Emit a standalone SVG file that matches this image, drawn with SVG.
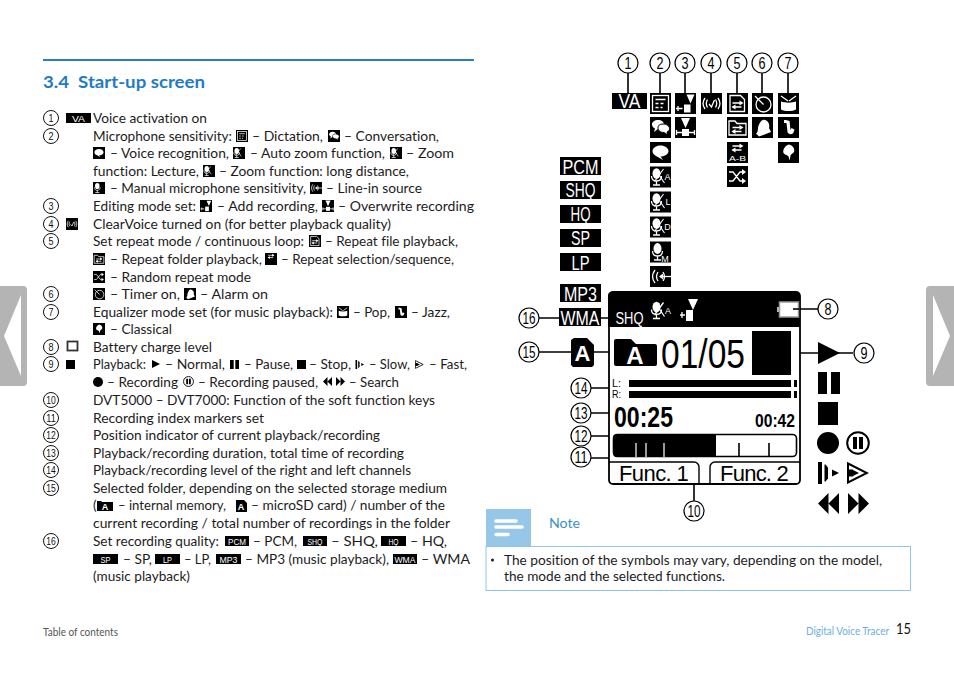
<svg xmlns="http://www.w3.org/2000/svg" xmlns:xlink="http://www.w3.org/1999/xlink" width="954" height="673" viewBox="0 0 954 673">
<style>
text{font-family:"Lato","Liberation Sans",sans-serif;font-variant-ligatures:none}
.t{font-size:13.5px;fill:#1c1c1c}
.h{font-size:17px;font-weight:700;fill:#1f7cc2}
.n{font-family:"Liberation Sans",sans-serif;font-size:11px;fill:#111;text-anchor:middle}
.N{font-family:"Liberation Sans",sans-serif;font-size:16px;fill:#000;text-anchor:middle}
.c{fill:#fff;stroke:#111;stroke-width:1}
.C{fill:#fff;stroke:#000;stroke-width:1.2}
.l{stroke:#000;stroke-width:1.6;fill:none}
.tag{font-family:"Liberation Sans",sans-serif;fill:#fff;text-anchor:middle}
.T{font-size:20px}
.s{font-size:9px}
.w{stroke:#fff;fill:none;stroke-width:1.3}
.wf{fill:#fff}
.lcd{font-family:"Liberation Sans",sans-serif;fill:#000}
</style>
<defs>
<symbol id="i-dict" viewBox="0 0 21 21"><rect width="21" height="21"/><rect x="2.5" y="2.5" width="16" height="16" class="w"/><path d="M5.5 6.5h10M5.500 10.500h3M10.500 10.500h3M5.500 14.500h3M10.500 14.500h2" class="w"/></symbol>
<symbol id="i-conv" viewBox="0 0 21 21"><rect width="21" height="21"/><path d="M8 3c3.500 0 6 2 6 4.500S11.500 12 8 12L4 15l1-3.500C3 10.500 2 9 2 7.500 2 5 4.500 3 8 3z" class="wf"/><path d="M13 7c3.500 0 6.500 2 6.500 4.500 0 1.500-1 3-2.500 3.500l1 3-4-2.500c-3.500 0-6-2-6-4.500S9.500 7 13 7z" class="wf" stroke="#000"/></symbol>
<symbol id="i-voice" viewBox="0 0 21 21"><rect width="21" height="21"/><path d="M10.500 3.500c4.500 0 8 2.500 8 5.500s-3.500 5.500-8 5.500L13 18l-6.500-3.800C4 13.300 2.500 11.300 2.500 9c0-3 3.500-5.500 8-5.500z" class="wf"/></symbol>
<symbol id="i-mic" viewBox="0 0 21 21"><rect width="21" height="21"/><ellipse cx="6.500" cy="7" rx="4" ry="5.200" class="wf"/><path d="M1.500 9.500c0 3.500 2.200 5 5 5s5-1.500 5-5M6.500 14.500v4M3 18.500h7" class="w"/><path d="M4.500 15L13.500 2.500M9 8.500l5.500 8" stroke="#fff" stroke-width="1.100" fill="none"/></symbol>
<symbol id="i-micm" viewBox="0 0 21 21"><rect width="21" height="21"/><ellipse cx="7.500" cy="7" rx="4" ry="5.400" class="wf"/><path d="M2.500 9.500c0 3.500 2.200 5 5 5s5-1.500 5-5M7.500 14.500v4M4 18.500h7" class="w"/></symbol>
<symbol id="i-line" viewBox="0 0 21 21"><rect width="21" height="21"/><path d="M5 4c-3 4-3 9 0 13M8 6c-2 3-2 6 0 9M13 6c2 3 2 6 0 9" class="w"/><path d="M10 10.500h11" class="w"/><path d="M9 10.500l4-3v6z" class="wf"/></symbol>
<symbol id="i-add" viewBox="0 0 21 21"><rect width="21" height="21"/><path d="M11.500 1.500h8l-4 9z" class="wf"/><rect x="9" y="11.500" width="6.500" height="8" class="wf"/><path d="M1 15.500h6.500M3 13v5" class="w"/></symbol>
<symbol id="i-over" viewBox="0 0 21 21"><rect width="21" height="21"/><path d="M6 1h9l-4.500 10z" class="wf"/><rect x="7" y="12" width="7" height="7" class="wf"/><path d="M1 15.500h19M1.500 13v5M19.500 13v5" class="w"/></symbol>
<symbol id="i-clear" viewBox="0 0 21 21"><rect width="21" height="21"/><path d="M4 5c-2.500 3.500-2.500 7.500 0 11M6.500 6.500c-1.500 2.500-1.500 5.500 0 8M17 5c2.500 3.500 2.500 7.500 0 11M14.500 6.500c1.500 2.500 1.500 5.500 0 8M8 11l2.500 3L13.500 7" class="w" stroke-width="1"/></symbol>
<symbol id="i-arrows" viewBox="0 0 21 21"><path d="M5.500 9h9M5.500 13h9" class="w"/><path d="M12.500 6.500l4 2.500-4 2.500zM8.500 10.500l-4 2.500 4 2.500z" class="wf"/></symbol>
<symbol id="i-file" viewBox="0 0 21 21"><rect width="21" height="21"/><path d="M3 2.500h10.500l4 4v12H3z" class="w"/><use href="#i-arrows" x="0" y="1" width="21" height="21"/></symbol>
<symbol id="i-folder" viewBox="0 0 21 21"><rect width="21" height="21"/><path d="M2 4h6l2 2.500h9v11.500H2z" class="w"/><use href="#i-arrows" x="0" y="1.500" width="21" height="21"/></symbol>
<symbol id="i-ab" viewBox="0 0 21 21"><rect width="21" height="21"/><use href="#i-arrows" x="0" y="-5" width="21" height="21"/></symbol>
<symbol id="i-rnd" viewBox="0 0 21 21"><rect width="21" height="21"/><path d="M2 6h4l7 9h3M2 15h4l7-9h3" class="w"/><path d="M15 3l4 3-4 3zM15 12l4 3-4 3z" class="wf"/></symbol>
<symbol id="i-timer" viewBox="0 0 21 21"><rect width="21" height="21"/><circle cx="11.500" cy="11.500" r="7.500" class="w" stroke-width="1.600"/><path d="M3 3l8.500 8.500" class="w" stroke-width="1.600"/></symbol>
<symbol id="i-alarm" viewBox="0 0 21 21"><rect width="21" height="21"/><path d="M13 3c3.500 1 5 4.500 4 8l2 4-12 4.500-3-3c3-2 1-5 3-9 1.500-3 3-5.500 6-4.500z" class="wf"/></symbol>
<symbol id="i-pop" viewBox="0 0 21 21"><rect width="21" height="21"/><path d="M3 3l7 5M18 3l-7 5" class="w"/><path d="M3 8.500c4 1.500 11 1.500 15 0v8c-4 2-11 2-15 0z" class="wf"/></symbol>
<symbol id="i-jazz" viewBox="0 0 21 21"><rect width="21" height="21"/><path d="M6 3v3h2.500l1 9c.5 2.500 5 3 6 .5l1-3-3-1.500-1 2L11.500 4 8 3z" class="wf"/></symbol>
<symbol id="i-cls" viewBox="0 0 21 21"><rect width="21" height="21"/><path d="M11 2.500c4.500 1 6 5 5 7.500-1 1.500-3 2-3.500 3.500l-.8 5-1.200-4c-1-1.500-3.500-1.500-5-3.500-1-3 1.500-7.500 5.500-8.500z" class="wf"/></symbol>
<symbol id="p-play" viewBox="0 0 22 22"><path d="M0 0l22 11L0 22z"/></symbol>
<symbol id="p-pause" viewBox="0 0 22 22"><rect width="9" height="22"/><rect x="13" width="9" height="22"/></symbol>
<symbol id="p-stop" viewBox="0 0 22 22"><rect width="22" height="22"/></symbol>
<symbol id="p-rec" viewBox="0 0 22 22"><circle cx="11" cy="11" r="11"/></symbol>
<symbol id="p-recp" viewBox="0 0 24 24"><circle cx="12" cy="12" r="10.800" fill="#fff" stroke="#000" stroke-width="2"/><rect x="7" y="6" width="4" height="12"/><rect x="13" y="6" width="4" height="12"/></symbol>
<symbol id="p-slow" viewBox="0 0 22 22"><rect width="4" height="22"/><path d="M6.500 2.500h1l2.500 3v11l-2.500 3h-1z"/><path d="M14 7.500l7 3.500-7 3.500z"/></symbol>
<symbol id="p-fast" viewBox="0 0 22 22"><path d="M1 1.500L20 11 1 20.500z" fill="#fff" stroke="#000" stroke-width="2"/><path d="M1 7.500h5v7H1zM6 8l6 3-6 3z"/></symbol>
<symbol id="p-rew" viewBox="0 0 22 22"><path d="M11 0L0 11l11 11zM22 0L11 11l11 11z"/></symbol>
<symbol id="p-ffw" viewBox="0 0 22 22"><path d="M0 0l11 11L0 22zM11 0l11 11-11 11z"/></symbol>
</defs>

<rect width="954" height="673" fill="#fff"/>

<g id="side-tabs">
<path d="M0 286h23a4 4 0 0 1 4 4v92a4 4 0 0 1-4 4H0z" fill="#b4b4b4"/>
<path d="M21 295L4 336l17 40z" fill="#fff"/>
<path d="M954 286h-24a4 4 0 0 0-4 4v92a4 4 0 0 0 4 4h24z" fill="#b4b4b4"/>
<path d="M933 295l17 41-17 40z" fill="#fff"/>
</g>

<g id="heading">
<rect x="43" y="59" width="431" height="2" fill="#2a7fc1"/>
<text class="h" x="43" y="88" xml:space="preserve" textLength="162" lengthAdjust="spacingAndGlyphs">3.4  Start-up screen</text>
</g>

<g id="list-numbers">
<g id="li1"><circle class="c" cx="51" cy="118" r="7.500"/><text class="n" x="51" y="122" textLength="5" lengthAdjust="spacingAndGlyphs">1</text></g>
<g id="li2"><circle class="c" cx="51" cy="136" r="7.500"/><text class="n" x="51" y="140" textLength="5" lengthAdjust="spacingAndGlyphs">2</text></g>
<g id="li3"><circle class="c" cx="51" cy="206" r="7.500"/><text class="n" x="51" y="210" textLength="5" lengthAdjust="spacingAndGlyphs">3</text></g>
<g id="li4"><circle class="c" cx="51" cy="224" r="7.500"/><text class="n" x="51" y="228" textLength="5" lengthAdjust="spacingAndGlyphs">4</text></g>
<g id="li5"><circle class="c" cx="51" cy="241" r="7.500"/><text class="n" x="51" y="245" textLength="5" lengthAdjust="spacingAndGlyphs">5</text></g>
<g id="li6"><circle class="c" cx="51" cy="294" r="7.500"/><text class="n" x="51" y="298" textLength="5" lengthAdjust="spacingAndGlyphs">6</text></g>
<g id="li7"><circle class="c" cx="51" cy="312" r="7.500"/><text class="n" x="51" y="316" textLength="5" lengthAdjust="spacingAndGlyphs">7</text></g>
<g id="li8"><circle class="c" cx="51" cy="347" r="7.500"/><text class="n" x="51" y="351" textLength="5" lengthAdjust="spacingAndGlyphs">8</text></g>
<g id="li9"><circle class="c" cx="51" cy="364" r="7.500"/><text class="n" x="51" y="368" textLength="5" lengthAdjust="spacingAndGlyphs">9</text></g>
<g id="li10"><circle class="c" cx="51" cy="400" r="7.500"/><text class="n" x="51" y="404" textLength="9.500" lengthAdjust="spacingAndGlyphs">10</text></g>
<g id="li11"><circle class="c" cx="51" cy="418" r="7.500"/><text class="n" x="51" y="422" textLength="9.500" lengthAdjust="spacingAndGlyphs">11</text></g>
<g id="li12"><circle class="c" cx="51" cy="435" r="7.500"/><text class="n" x="51" y="439" textLength="9.500" lengthAdjust="spacingAndGlyphs">12</text></g>
<g id="li13"><circle class="c" cx="51" cy="453" r="7.500"/><text class="n" x="51" y="457" textLength="9.500" lengthAdjust="spacingAndGlyphs">13</text></g>
<g id="li14"><circle class="c" cx="51" cy="470" r="7.500"/><text class="n" x="51" y="474" textLength="9.500" lengthAdjust="spacingAndGlyphs">14</text></g>
<g id="li15"><circle class="c" cx="51" cy="488" r="7.500"/><text class="n" x="51" y="492" textLength="9.500" lengthAdjust="spacingAndGlyphs">15</text></g>
<g id="li16"><circle class="c" cx="51" cy="541" r="7.500"/><text class="n" x="51" y="545" textLength="9.500" lengthAdjust="spacingAndGlyphs">16</text></g>
</g>

<g id="list-text">
<rect x="66" y="113" width="25" height="10"/><text class="tag s" x="78.500" y="121.500" textLength="13" lengthAdjust="spacingAndGlyphs">VA</text>
<text class="t" x="93" y="123" textLength="114" lengthAdjust="spacingAndGlyphs">Voice activation on</text>

<text class="t" x="93" y="141" textLength="139" lengthAdjust="spacingAndGlyphs">Microphone sensitivity:</text>
<use href="#i-dict" x="236" y="130" width="12" height="12"/>
<text class="t" x="252" y="141" textLength="71" lengthAdjust="spacingAndGlyphs">– Dictation,</text>
<use href="#i-conv" x="328" y="130" width="12" height="12"/>
<text class="t" x="344" y="141" textLength="95" lengthAdjust="spacingAndGlyphs">– Conversation,</text>

<use href="#i-voice" x="93" y="147" width="12" height="12"/>
<text class="t" x="110" y="158" textLength="119" lengthAdjust="spacingAndGlyphs">– Voice recognition,</text>
<use href="#i-mic" x="233" y="147" width="12" height="12"/>
<text class="t" x="250" y="158" textLength="135" lengthAdjust="spacingAndGlyphs">– Auto zoom function,</text>
<use href="#i-mic" x="390" y="147" width="12" height="12"/>
<text class="t" x="406" y="158" textLength="48" lengthAdjust="spacingAndGlyphs">– Zoom</text>

<text class="t" x="93" y="176" textLength="106" lengthAdjust="spacingAndGlyphs">function: Lecture,</text>
<use href="#i-mic" x="203" y="165" width="12" height="12"/>
<text class="t" x="219" y="176" textLength="190" lengthAdjust="spacingAndGlyphs">– Zoom function: long distance,</text>

<use href="#i-micm" x="93" y="182" width="12" height="12"/>
<text class="t" x="110" y="193" textLength="196" lengthAdjust="spacingAndGlyphs">– Manual microphone sensitivity,</text>
<use href="#i-line" x="310" y="182" width="12" height="12"/>
<text class="t" x="326" y="193" textLength="96" lengthAdjust="spacingAndGlyphs">– Line-in source</text>

<text class="t" x="93" y="211" textLength="103" lengthAdjust="spacingAndGlyphs">Editing mode set:</text>
<use href="#i-add" x="200" y="200" width="12" height="12"/>
<text class="t" x="217" y="211" textLength="101" lengthAdjust="spacingAndGlyphs">– Add recording,</text>
<use href="#i-over" x="322" y="200" width="12" height="12"/>
<text class="t" x="338" y="211" textLength="136" lengthAdjust="spacingAndGlyphs">– Overwrite recording</text>

<use href="#i-clear" x="66" y="218" width="12" height="12"/>
<text class="t" x="93" y="229" textLength="298" lengthAdjust="spacingAndGlyphs">ClearVoice turned on (for better playback quality)</text>

<text class="t" x="93" y="246" textLength="211" lengthAdjust="spacingAndGlyphs">Set repeat mode / continuous loop:</text>
<use href="#i-file" x="309" y="235" width="12" height="12"/>
<text class="t" x="325" y="246" textLength="133" lengthAdjust="spacingAndGlyphs">– Repeat file playback,</text>

<use href="#i-folder" x="93" y="253" width="12" height="12"/>
<text class="t" x="110" y="264" textLength="152" lengthAdjust="spacingAndGlyphs">– Repeat folder playback,</text>
<use href="#i-ab" x="265" y="253" width="12" height="12"/>
<text class="t" x="281" y="264" textLength="173" lengthAdjust="spacingAndGlyphs">– Repeat selection/sequence,</text>

<use href="#i-rnd" x="93" y="271" width="12" height="12"/>
<text class="t" x="110" y="282" textLength="141" lengthAdjust="spacingAndGlyphs">– Random repeat mode</text>

<use href="#i-timer" x="93" y="288" width="12" height="12"/>
<text class="t" x="110" y="299" textLength="70" lengthAdjust="spacingAndGlyphs">– Timer on,</text>
<use href="#i-alarm" x="184" y="288" width="12" height="12"/>
<text class="t" x="200" y="299" textLength="68" lengthAdjust="spacingAndGlyphs">– Alarm on</text>

<text class="t" x="93" y="317" textLength="240" lengthAdjust="spacingAndGlyphs">Equalizer mode set (for music playback):</text>
<use href="#i-pop" x="337" y="306" width="12" height="12"/>
<text class="t" x="353" y="317" textLength="37" lengthAdjust="spacingAndGlyphs">– Pop,</text>
<use href="#i-jazz" x="395" y="306" width="12" height="12"/>
<text class="t" x="411" y="317" textLength="39" lengthAdjust="spacingAndGlyphs">– Jazz,</text>

<use href="#i-cls" x="93" y="323" width="12" height="12"/>
<text class="t" x="110" y="334" textLength="62" lengthAdjust="spacingAndGlyphs">– Classical</text>

<rect x="67.500" y="341.500" width="10" height="9" fill="#fff" stroke="#333" stroke-width="1.800"/>
<text class="t" x="93" y="352" textLength="119" lengthAdjust="spacingAndGlyphs">Battery charge level</text>

<use href="#p-stop" x="66" y="360" width="9" height="9"/>
<text class="t" x="93" y="369" textLength="53" lengthAdjust="spacingAndGlyphs">Playback:</text>
<use href="#p-play" x="152" y="360" width="8" height="8"/>
<text class="t" x="165" y="369" textLength="60" lengthAdjust="spacingAndGlyphs">– Normal,</text>
<use href="#p-pause" x="230" y="360" width="9" height="9"/>
<text class="t" x="244" y="369" textLength="49" lengthAdjust="spacingAndGlyphs">– Pause,</text>
<use href="#p-stop" x="297" y="360" width="9" height="9"/>
<text class="t" x="309" y="369" textLength="42" lengthAdjust="spacingAndGlyphs">– Stop,</text>
<use href="#p-slow" x="355" y="360" width="10" height="9"/>
<text class="t" x="369" y="369" textLength="41" lengthAdjust="spacingAndGlyphs">– Slow,</text>
<use href="#p-fast" x="415" y="360" width="9" height="9"/>
<text class="t" x="429" y="369" textLength="38" lengthAdjust="spacingAndGlyphs">– Fast,</text>

<use href="#p-rec" x="93" y="377" width="10" height="10"/>
<text class="t" x="107" y="387" textLength="71" lengthAdjust="spacingAndGlyphs">– Recording</text>
<use href="#p-recp" x="183" y="376" width="11" height="11"/>
<text class="t" x="198" y="387" textLength="120" lengthAdjust="spacingAndGlyphs">– Recording paused,</text>
<use href="#p-rew" x="323" y="377" width="9" height="9"/>
<use href="#p-ffw" x="336" y="377" width="9" height="9"/>
<text class="t" x="349" y="387" textLength="50" lengthAdjust="spacingAndGlyphs">– Search</text>

<text class="t" x="93" y="405" textLength="342" lengthAdjust="spacingAndGlyphs">DVT5000 – DVT7000: Function of the soft function keys</text>
<text class="t" x="93" y="423" textLength="171" lengthAdjust="spacingAndGlyphs">Recording index markers set</text>
<text class="t" x="93" y="440" textLength="287" lengthAdjust="spacingAndGlyphs">Position indicator of current playback/recording</text>
<text class="t" x="93" y="458" textLength="311" lengthAdjust="spacingAndGlyphs">Playback/recording duration, total time of recording</text>
<text class="t" x="93" y="475" textLength="318" lengthAdjust="spacingAndGlyphs">Playback/recording level of the right and left channels</text>
<text class="t" x="93" y="493" textLength="354" lengthAdjust="spacingAndGlyphs">Selected folder, depending on the selected storage medium</text>

<text class="t" x="93" y="510">(</text>
<path d="M97 501h4l1 1h11v9H97z"/><text class="tag s" x="105" y="510" font-weight="700">A</text>
<text class="t" x="118" y="510" textLength="108" lengthAdjust="spacingAndGlyphs">– internal memory,</text>
<path d="M236 500h8l3 3v9h-11z"/><text class="tag s" x="241" y="510" font-weight="700">A</text>
<text class="t" x="251" y="510" textLength="194" lengthAdjust="spacingAndGlyphs">– microSD card) / number of the</text>
<text class="t" x="93" y="528" textLength="357" lengthAdjust="spacingAndGlyphs">current recording / total number of recordings in the folder</text>

<text class="t" x="93" y="546" textLength="126" lengthAdjust="spacingAndGlyphs">Set recording quality:</text>
<rect x="225" y="536" width="24" height="10"/><text class="tag s" x="237" y="544.500" textLength="18" lengthAdjust="spacingAndGlyphs">PCM</text>
<text class="t" x="253" y="546" textLength="44" lengthAdjust="spacingAndGlyphs">– PCM,</text>
<rect x="303" y="536" width="24" height="10"/><text class="tag s" x="315" y="544.500" textLength="15" lengthAdjust="spacingAndGlyphs">SHQ</text>
<text class="t" x="331" y="546" textLength="47" lengthAdjust="spacingAndGlyphs">– SHQ,</text>
<rect x="381" y="536" width="25" height="10"/><text class="tag s" x="393.500" y="544.500" textLength="10" lengthAdjust="spacingAndGlyphs">HQ</text>
<text class="t" x="410" y="546" textLength="37" lengthAdjust="spacingAndGlyphs">– HQ,</text>

<rect x="93" y="554" width="25" height="10"/><text class="tag s" x="105.500" y="562.500" textLength="10" lengthAdjust="spacingAndGlyphs">SP</text>
<text class="t" x="123" y="564" textLength="29" lengthAdjust="spacingAndGlyphs">– SP,</text>
<rect x="155" y="554" width="25" height="10"/><text class="tag s" x="167.500" y="562.500" textLength="9" lengthAdjust="spacingAndGlyphs">LP</text>
<text class="t" x="184" y="564" textLength="27" lengthAdjust="spacingAndGlyphs">– LP,</text>
<rect x="216" y="554" width="25" height="10"/><text class="tag s" x="228.500" y="562.500" textLength="18" lengthAdjust="spacingAndGlyphs">MP3</text>
<text class="t" x="245" y="564" textLength="144" lengthAdjust="spacingAndGlyphs">– MP3 (music playback),</text>
<rect x="393" y="554" width="24" height="10"/><text class="tag s" x="405" y="562.500" textLength="21" lengthAdjust="spacingAndGlyphs">WMA</text>
<text class="t" x="421" y="564" textLength="49" lengthAdjust="spacingAndGlyphs">– WMA</text>
<text class="t" x="93" y="581" textLength="97" lengthAdjust="spacingAndGlyphs">(music playback)</text>
</g>

<g id="connectors">
<path class="l" d="M628 73v20M660 73v20M685 73v20M711 73v20M737 73v20M762 73v20M788 73v20"/>
<path class="l" d="M539 318h20M601 318h8M539 352h32M594 352h17M591 388h19M591 413h24M591 436h23M591 458h45v-15M694 476v25M793 309h25M797 353h56"/>
</g>

<g id="icon-callouts">
<g id="c1"><circle class="C" cx="628" cy="63" r="10"/><text class="N" x="628" y="69" textLength="7" lengthAdjust="spacingAndGlyphs">1</text></g>
<g id="c2"><circle class="C" cx="660" cy="63" r="10"/><text class="N" x="660" y="69" textLength="7" lengthAdjust="spacingAndGlyphs">2</text></g>
<g id="c3"><circle class="C" cx="685" cy="63" r="10"/><text class="N" x="685" y="69" textLength="7" lengthAdjust="spacingAndGlyphs">3</text></g>
<g id="c4"><circle class="C" cx="711" cy="63" r="10"/><text class="N" x="711" y="69" textLength="7" lengthAdjust="spacingAndGlyphs">4</text></g>
<g id="c5"><circle class="C" cx="737" cy="63" r="10"/><text class="N" x="737" y="69" textLength="7" lengthAdjust="spacingAndGlyphs">5</text></g>
<g id="c6"><circle class="C" cx="762" cy="63" r="10"/><text class="N" x="762" y="69" textLength="7" lengthAdjust="spacingAndGlyphs">6</text></g>
<g id="c7"><circle class="C" cx="788" cy="63" r="10"/><text class="N" x="788" y="69" textLength="7" lengthAdjust="spacingAndGlyphs">7</text></g>
<g id="c8"><circle class="C" cx="828" cy="309" r="10"/><text class="N" x="828" y="315" textLength="7" lengthAdjust="spacingAndGlyphs">8</text></g>
<g id="c9"><circle class="C" cx="864" cy="353" r="10"/><text class="N" x="864" y="359" textLength="7" lengthAdjust="spacingAndGlyphs">9</text></g>
<g id="c10"><circle class="C" cx="694" cy="511" r="10"/><text class="N" x="694" y="517" textLength="13" lengthAdjust="spacingAndGlyphs">10</text></g>
<g id="c11"><circle class="C" cx="581" cy="457" r="10"/><text class="N" x="581" y="463" textLength="13" lengthAdjust="spacingAndGlyphs">11</text></g>
<g id="c12"><circle class="C" cx="581" cy="436" r="10"/><text class="N" x="581" y="442" textLength="13" lengthAdjust="spacingAndGlyphs">12</text></g>
<g id="c13"><circle class="C" cx="581" cy="413" r="10"/><text class="N" x="581" y="419" textLength="13" lengthAdjust="spacingAndGlyphs">13</text></g>
<g id="c14"><circle class="C" cx="581" cy="388" r="10"/><text class="N" x="581" y="394" textLength="13" lengthAdjust="spacingAndGlyphs">14</text></g>
<g id="c15"><circle class="C" cx="529" cy="352" r="10"/><text class="N" x="529" y="358" textLength="13" lengthAdjust="spacingAndGlyphs">15</text></g>
<g id="c16"><circle class="C" cx="529" cy="318" r="10"/><text class="N" x="529" y="324" textLength="13" lengthAdjust="spacingAndGlyphs">16</text></g>
</g>

<g id="icon-grid">
<g id="ic-va"><rect x="612" y="93" width="35" height="16"/><text class="tag T" x="629.500" y="108" textLength="22" lengthAdjust="spacingAndGlyphs">VA</text></g>
<use href="#i-dict" x="650" y="93" width="21" height="21"/>
<use href="#i-conv" x="650" y="117" width="21" height="21"/>
<use href="#i-voice" x="650" y="142" width="21" height="21"/>
<use href="#i-mic" x="650" y="166" width="21" height="22"/><text class="tag" font-size="9" x="667.500" y="180">A</text>
<use href="#i-mic" x="650" y="191" width="21" height="22"/><text class="tag" font-size="9" x="668" y="205">L</text>
<use href="#i-mic" x="650" y="216" width="21" height="22"/><text class="tag" font-size="9" x="667.500" y="230">D</text>
<use href="#i-micm" x="650" y="241" width="21" height="22"/><text class="tag" font-size="9" x="665" y="262">M</text>
<use href="#i-line" x="650" y="266" width="21" height="21"/>
<use href="#i-add" x="675" y="93" width="21" height="21"/>
<use href="#i-over" x="675" y="117" width="21" height="21"/>
<use href="#i-clear" x="701" y="93" width="21" height="21"/>
<use href="#i-file" x="727" y="93" width="21" height="21"/>
<use href="#i-folder" x="727" y="117" width="21" height="21"/>
<use href="#i-ab" x="727" y="142" width="21" height="21"/><text class="tag" font-size="8" x="737.500" y="161" textLength="17" lengthAdjust="spacingAndGlyphs">A-B</text>
<use href="#i-rnd" x="727" y="166" width="21" height="21"/>
<use href="#i-timer" x="752" y="93" width="21" height="21"/>
<use href="#i-alarm" x="752" y="117" width="21" height="21"/>
<use href="#i-pop" x="778" y="93" width="21" height="21"/>
<use href="#i-jazz" x="778" y="117" width="21" height="21"/>
<use href="#i-cls" x="778" y="142" width="21" height="21"/>
</g>

<g id="quality-tags">
<g id="q-pcm"><rect x="560" y="157" width="41" height="18"/><text class="tag T" x="580.500" y="173.500" textLength="36" lengthAdjust="spacingAndGlyphs">PCM</text></g>
<g id="q-shq"><rect x="560" y="181" width="41" height="18"/><text class="tag T" x="580.500" y="197" textLength="30" lengthAdjust="spacingAndGlyphs">SHQ</text></g>
<g id="q-hq"><rect x="560" y="205" width="41" height="18"/><text class="tag T" x="580.500" y="221" textLength="20" lengthAdjust="spacingAndGlyphs">HQ</text></g>
<g id="q-sp"><rect x="560" y="229" width="41" height="18"/><text class="tag T" x="580.500" y="245" textLength="19" lengthAdjust="spacingAndGlyphs">SP</text></g>
<g id="q-lp"><rect x="560" y="253" width="41" height="18"/><text class="tag T" x="580.500" y="269.500" textLength="18" lengthAdjust="spacingAndGlyphs">LP</text></g>
<g id="q-mp3"><rect x="560" y="284" width="41" height="18"/><text class="tag T" x="580.500" y="300.500" textLength="33" lengthAdjust="spacingAndGlyphs">MP3</text></g>
<g id="q-wma"><rect x="559" y="308" width="42" height="18"/><text class="tag T" x="580" y="324.500" textLength="39" lengthAdjust="spacingAndGlyphs">WMA</text></g>
</g>

<g id="folder-a"><path d="M574 338h13l7 7v20l-2 2h-19l-2-2v-25z"/><text class="tag" font-weight="700" font-size="22" x="582.500" y="361">A</text></g>

<g id="screen">
<path d="M613 292h183a4 4 0 0 1 4 4v184a4 4 0 0 1-4 4H613a4 4 0 0 1-4-4V296a4 4 0 0 1 4-4z" fill="#fff" stroke="#000" stroke-width="1.800"/>
<path d="M608 296a4 4 0 0 1 4-4h184a4 4 0 0 1 4 4v31H608z"/>
<text class="tag" font-size="16" x="629.500" y="323.500" textLength="28" lengthAdjust="spacingAndGlyphs">SHQ</text>
<g transform="translate(650 300)"><ellipse cx="6.500" cy="7" rx="4" ry="5.200" class="wf"/><path d="M1.500 9.500c0 3.500 2.200 5 5 5s5-1.500 5-5M6.500 14.500v4M3 18.500h7M4.500 15L13.500 2.500M9 8.500l5.500 8" class="w" stroke-width="1.100"/></g>
<text class="tag" font-size="9" x="668" y="314">A</text>
<path d="M680 315h5M682 312v6" class="w"/>
<rect x="686" y="310" width="7" height="11" class="wf"/>
<path d="M688 299h10l-5 11z" class="wf"/>
<rect x="777" y="307" width="3" height="5" fill="#bbb"/>
<rect x="779.500" y="302" width="19" height="15" fill="#fff" stroke="#999" stroke-width="1.500"/>
<path d="M793 309h6" stroke="#000" stroke-width="1.600"/>

<path d="M614 341a2 2 0 0 1 2-2h15l5 5h19a2 2 0 0 1 2 2v18a2 2 0 0 1-2 2h-39a2 2 0 0 1-2-2z"/>
<text class="tag" font-weight="700" font-size="24" x="635" y="364">A</text>
<text class="lcd" font-size="41" x="661" y="368" textLength="84" lengthAdjust="spacingAndGlyphs">01/05</text>
<rect x="752" y="331" width="39" height="44"/>
<text class="lcd" font-size="11" x="612" y="387" textLength="9" lengthAdjust="spacingAndGlyphs">L:</text>
<text class="lcd" font-size="11" x="612" y="398" textLength="9" lengthAdjust="spacingAndGlyphs">R:</text>
<rect x="629" y="380" width="162" height="7"/><rect x="794" y="380" width="3" height="7"/>
<rect x="629" y="391" width="162" height="7"/><rect x="794" y="391" width="3" height="7"/>
<text class="lcd" font-size="30" font-weight="700" x="614" y="427" textLength="59" lengthAdjust="spacingAndGlyphs">00:25</text>
<text class="lcd" font-size="18" font-weight="700" x="755" y="427" textLength="40" lengthAdjust="spacingAndGlyphs">00:42</text>
<rect x="613.500" y="434.500" width="183" height="22" rx="4" fill="#fff" stroke="#000" stroke-width="1.600"/>
<path d="M617 434h99v23h-99a4 4 0 0 1-4-4v-15a4 4 0 0 1 4-4z"/>
<path d="M636 443v14M646 443v14M664 443v14" stroke="#fff" stroke-width="1.200"/>
<path d="M739 443v14M769 443v14" stroke="#000" stroke-width="1.600"/>
<path d="M609 462h85a5 5 0 0 1 5 5v17M710 484v-17a5 5 0 0 1 5-5h85" fill="none" stroke="#000" stroke-width="1.400"/>
<text class="lcd" font-size="22" x="619" y="481" textLength="71" lengthAdjust="spacing" letter-spacing="1.200">Func. 1</text>
<text class="lcd" font-size="22" x="720" y="481" textLength="70" lengthAdjust="spacing" letter-spacing="1.200">Func. 2</text>
</g>

<g id="transport">
<use href="#p-play" x="818" y="342" width="22" height="22"/>
<use href="#p-pause" x="818" y="372" width="22" height="22"/>
<rect x="818" y="402" width="20" height="23"/>
<use href="#p-rec" x="817" y="432" width="22" height="22"/>
<use href="#p-recp" x="846" y="431" width="24" height="24"/>
<use href="#p-slow" x="818" y="462" width="22" height="22"/>
<use href="#p-fast" x="847" y="462" width="22" height="22"/>
<use href="#p-rew" x="818" y="492" width="21" height="23"/>
<use href="#p-ffw" x="848" y="492" width="21" height="23"/>
</g>

<g id="note">
<rect x="486" y="509" width="45" height="37" fill="#97c7e8"/>
<path d="M496 521h20M496 527h26M496 534.500h12" stroke="#fff" stroke-width="3.500" stroke-linecap="round"/>
<text x="549" y="528" font-size="13.500" fill="#3a8fd0" textLength="31" lengthAdjust="spacingAndGlyphs">Note</text>
<rect x="486" y="546.500" width="424.500" height="44" fill="#fff" stroke="#8fc5ea"/>
<circle cx="492.500" cy="560" r="1.500" fill="#1c1c1c"/>
<text class="t" x="504" y="565" textLength="378" lengthAdjust="spacingAndGlyphs">The position of the symbols may vary, depending on the model,</text>
<text class="t" x="504" y="581" textLength="221" lengthAdjust="spacingAndGlyphs">the mode and the selected functions.</text>
</g>

<g id="footer">
<text x="43" y="636" font-size="10.500" fill="#555" textLength="75" lengthAdjust="spacingAndGlyphs">Table of contents</text>
<text x="806" y="635" font-size="11" fill="#6aaee0" textLength="83" lengthAdjust="spacingAndGlyphs">Digital Voice Tracer</text>
<text x="896" y="634" font-size="15" fill="#111" textLength="15" lengthAdjust="spacingAndGlyphs">15</text>
</g>
</svg>
